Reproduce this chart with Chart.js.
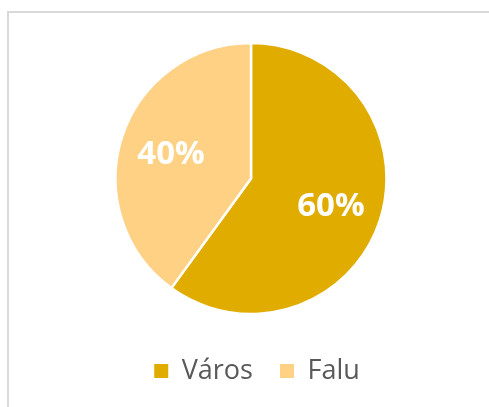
<!DOCTYPE html>
<html>
<head>
<meta charset="utf-8">
<script src="https://cdn.jsdelivr.net/npm/chart.js@4/dist/chart.umd.min.js"></script>
<style>
  body { margin: 0; background: #fff; }
  #frame { position: absolute; left: 7px; top: 11px; width: 500px; height: 420px; border: 2px solid #d9d9d9; box-sizing: border-box; }
  #wrap { position: absolute; left: 0; top: 0; width: 489px; height: 407px; }
</style>
</head>
<body>
<div id="frame"></div>
<div id="wrap"><canvas id="pie"></canvas></div>
<script>
const labels = ["Város", "Falu"];
const shares = [60, 40];
const colors = ["#E1AC00", "#FFD185"];

// percent labels inside the slices
const sliceLabels = {
  id: "sliceLabels",
  afterLayout(chart) {
    // legend sits a little right of the pie's centre
    chart.legend.left += 6;
    chart.legend.right += 6;
  },
  afterDatasetsDraw(chart) {
    const ctx = chart.ctx;
    const meta = chart.getDatasetMeta(0);
    ctx.save();
    ctx.fillStyle = "#fff";
    ctx.font = "bold 33px 'Open Sans'";
    ctx.textAlign = "center";
    ctx.textBaseline = "middle";
    meta.data.forEach((arc, i) => {
      const mid = (arc.startAngle + arc.endAngle) / 2;
      const r = arc.outerRadius * 0.62;
      ctx.fillText(shares[i] + "%", arc.x + Math.cos(mid) * r, arc.y + Math.sin(mid) * r + 2);
    });
    ctx.restore();
  }
};

new Chart(document.getElementById("pie"), {
  type: "pie",
  data: {
    labels: labels,
    datasets: [{
      data: shares,
      backgroundColor: colors,
      borderColor: "#fff",
      borderWidth: 2.5,
      radius: 135.5
    }]
  },
  options: {
    responsive: true,
    maintainAspectRatio: false,
    animation: false,
    layout: { padding: { top: 26.5, bottom: 12.5, left: 13, right: 0 } },
    plugins: {
      tooltip: { enabled: false },
      legend: {
        position: "bottom",
        labels: {
          boxWidth: 14,
          boxHeight: 14,
          padding: 27,
          color: "#595959",
          font: { family: "'Open Sans'", size: 27 },
          generateLabels(chart) {
            const items = Chart.overrides.pie.plugins.legend.labels.generateLabels(chart);
            items.forEach(it => { it.lineWidth = 0; });
            return items;
          }
        }
      }
    }
  },
  plugins: [sliceLabels]
});
</script>
</body>
</html>
